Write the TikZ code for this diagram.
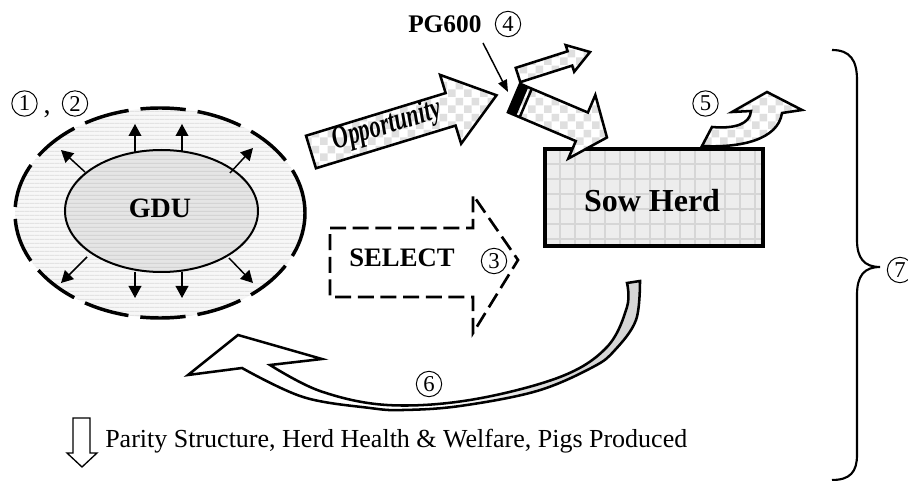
\documentclass[tikz,border=0pt]{standalone}
\usepackage{fontspec}
\setmainfont{Liberation Serif}
\usetikzlibrary{arrows.meta,patterns.meta}
\newcommand\fsz[1]{\fontsize{#1}{#1}\selectfont}
\tikzdeclarepattern{
  name=hstripes, type=uncolored,
  bottom left={(0pt,0pt)}, top right={(4pt,3pt)}, tile size={(4pt,3pt)},
  code={\draw[line width=1.1pt] (0pt,1.5pt) -- (4pt,1.5pt);}
}
\tikzdeclarepattern{
  name=checker, type=uncolored,
  bottom left={(0pt,0pt)}, top right={(12pt,12pt)}, tile size={(12pt,12pt)},
  code={\fill (0pt,0pt) rectangle (6pt,6pt); \fill (6pt,6pt) rectangle (12pt,12pt);}
}
\tikzset{
  blockarrow/.style={preaction={fill=white}, preaction={pattern=checker, pattern color=gray!25},
    draw=black, line width=1.9pt, line join=miter},
  radarrow/.style={line width=1.1pt, -{Triangle[length=9pt,width=9.5pt]}},
  circnum/.style={circle, draw, line width=0.75pt, minimum size=19pt, inner sep=0pt, font=\fsz{17pt}},
  boldlabel/.style={font=\bfseries, inner sep=0pt},
}
\newcommand\sixshape{(188,375) -- (238,335) -- (322,359) --
  plot[smooth, tension=0.6] coordinates {(270,365) (320,391) (387,405) (470,400) (560,377) (607,347) (627,307) (627,283)}
  -- plot[smooth, tension=0.6] coordinates {(640,281) (636,320) (615,350) (593,367) (537,391) (460,406) (403,410) (370,408) (303,397) (242,368)}
  -- cycle}
\begin{document}
\begin{tikzpicture}[x=0.75pt,y=-0.75pt]
\useasboundingbox (0,0) rectangle (908,481);
% outer GDU zone
\path[fill=gray!6, postaction={pattern=hstripes, pattern color=gray!22}] (160,213) ellipse [x radius=145, y radius=105];
\draw[line width=2.6pt, dash pattern=on 34pt off 9pt] (160,213) ellipse [x radius=145, y radius=105];
% inner GDU
\path[fill=gray!20, postaction={pattern=hstripes, pattern color=gray!34}] (161.5,211) ellipse [x radius=96.5, y radius=61];
\draw[line width=1.5pt] (161.5,211) ellipse [x radius=96.5, y radius=61];
\node[boldlabel, font=\bfseries\fsz{21pt}, anchor=base] (gdu) at (160,218) {GDU};
% radiating arrows
\draw[radarrow] (135,152) -- (135,124);
\draw[radarrow] (182,152) -- (182,124);
\draw[radarrow] (85,172) -- (61,150);
\draw[radarrow] (230,173) -- (253,148);
\draw[radarrow] (135,272) -- (135,298);
\draw[radarrow] (182,272) -- (182,298);
\draw[radarrow] (87,257) -- (61,283);
\draw[radarrow] (229,258) -- (253,283);
\node[circnum] (c1) at (24.5,103.5) {1};
\node[anchor=base, inner sep=0pt, font=\fsz{21pt}] (comma) at (47,114) {,};
\node[circnum] (c2) at (75,103.5) {2};
% Sow herd box
\begin{scope}
\clip (545,149) rectangle (763,246);
\fill[gray!14] (545,149) rectangle (763,246);
\foreach \x in {560,575,...,760} \draw[gray!32, line width=0.9pt] (\x,149) -- (\x,246);
\foreach \y in {164,179,...,245} \draw[gray!32, line width=0.9pt] (545,\y) -- (763,\y);
\end{scope}
\draw[line width=2.3pt] (545,149) rectangle (763,246);
\node[boldlabel, font=\bfseries\fsz{24pt}, anchor=base] (sow) at (652,212) {Sow Herd};
% Opportunity arrow
\begin{scope}[shift={(311,152)}, rotate=17]
\path[blockarrow] (0,-17) -- (146,-17) -- (146,-36) -- (194,0) -- (146,36) -- (146,17) -- (0,17) -- cycle;
\end{scope}
\node[rotate=17, inner sep=0pt] (opp) at (387,126) {\scalebox{0.7}[1]{\fsz{24pt}\bfseries\itshape Opportunity}};
% diverted small arrow
\begin{scope}[shift={(518,75)}, rotate=17.7]
\path[blockarrow] (0,-7.5) -- (54.5,-7.5) -- (54.5,-14) -- (75.6,0) -- (54.5,14) -- (54.5,7.5) -- (0,7.5) -- cycle;
\end{scope}
% PG600 arrow into sow herd
\begin{scope}[shift={(514,98)}, rotate=-23]
\path[blockarrow] (0,-15.5) -- (73.7,-15.5) -- (73.7,-34.5) -- (101,0) -- (73.7,34.5) -- (73.7,15.5) -- (0,15.5) -- cycle;
\fill (0,-15.5) rectangle (9,15.5);
\fill (11.5,-15.5) rectangle (14,15.5);
\end{scope}
\node[boldlabel, font=\bfseries\fsz{19pt}, anchor=base west] (pg) at (408,33) {PG600};
\node[circnum] (c4) at (508,24) {4};
\coordinate (pgfrom) at (483,43);
\coordinate (pgtip) at (508,92);
\draw[line width=1.1pt, -{Triangle[length=9pt,width=7pt]}] (pgfrom) -- (pgtip);
% culling arrow 5
\path[blockarrow] (702,146) .. controls (740,148) and (778,140) .. (782,113) -- (802,110) -- (767,92) -- (732,112) -- (751,111) .. controls (750,124) and (735,129) .. (712,127) -- cycle;
\node[circnum] (c5) at (705.5,103.5) {5};
% SELECT dashed arrow
\draw[line width=2pt, dash pattern=on 12pt off 5pt, line join=miter] (330,228) -- (473,228) -- (473,195) -- (518,260) -- (473,333) -- (473,297) -- (330,297) -- cycle;
\node[boldlabel, font=\bfseries\fsz{20pt}, anchor=base] (sel) at (402,267) {SELECT};
\node[circnum] (c3) at (494,261) {3};
% feedback arrow 6
\fill[white] \sixshape;
\begin{scope}
\clip \sixshape;
\shade[left color=white, right color=gray!32] (440,270) rectangle (560,420);
\fill[gray!32] (560,270) rectangle (650,420);
\end{scope}
\draw[line width=1.9pt, line join=miter] \sixshape;
\node[circnum] (c6) at (429,384) {6};
% outputs
\draw[line width=1pt] (73,418) -- (90,418) -- (90,453) -- (97,453) -- (82,467) -- (67,453) -- (73,453) -- cycle;
\node[anchor=base west, inner sep=0pt, font=\fsz{19.5pt}] (out) at (105,447) {Parity Structure, Herd Health \& Welfare, Pigs Produced};
% brace 7
\node[circnum] (c7) at (900,270) {7};
\draw[line width=1.6pt] (832,50) .. controls (850,50) and (857,60) .. (857,80) -- (857,240) .. controls (857,258) and (864,267) .. (880,267)
  .. controls (864,267) and (857,276) .. (857,295) -- (857,455) .. controls (857,472) and (850,480) .. (832,480);
\end{tikzpicture}
\end{document}
